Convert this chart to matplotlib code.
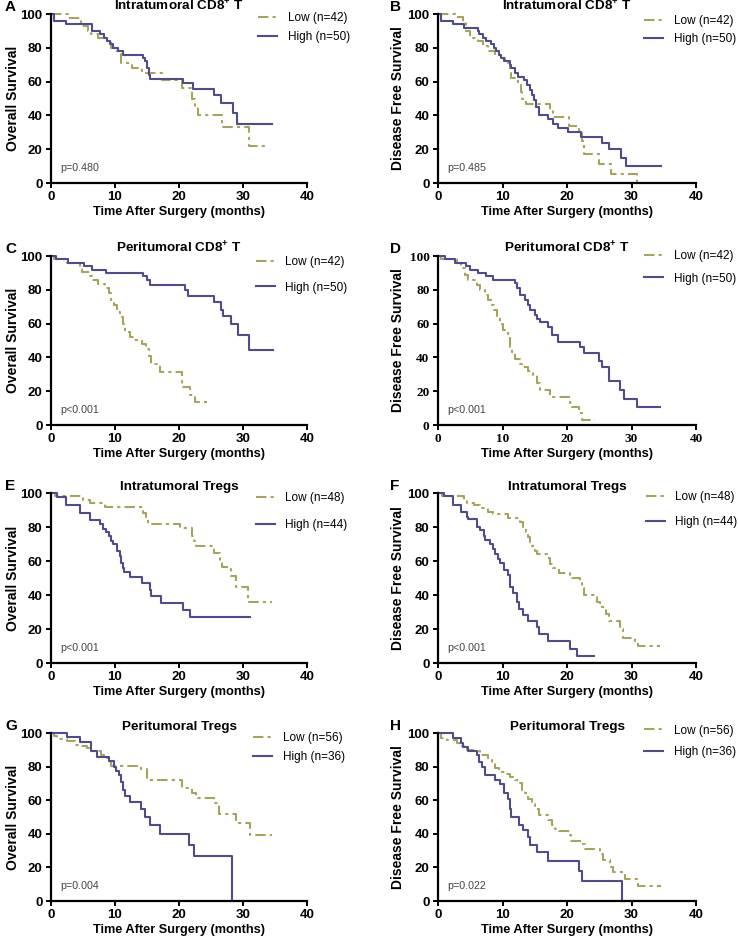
import numpy as np
import matplotlib.pyplot as plt

plt.rcParams['font.family'] = ['Liberation Sans', 'DejaVu Sans']
plt.rcParams['mathtext.fontset'] = 'custom'
plt.rcParams['mathtext.rm'] = 'Liberation Sans'
plt.rcParams['mathtext.bf'] = 'Liberation Sans:bold'

LOW_COLOR = '#a8a35c'
HIGH_COLOR = '#4e4c8c'

# ---- data: step times (months) and survival (%) ----
# A: intratumoral CD8+ T, overall survival
a_low_t = [0, 2.7, 4.7, 5.8, 6.2, 7.4, 8.7, 9.4, 10.0, 10.9, 12.6, 14.2, 17.3, 20.4, 22.0, 22.5, 22.9, 26.7, 31.0, 34.1]
a_low_s = [100, 97.5, 93, 90, 88, 86, 84, 80, 78, 71, 68, 65, 61, 56, 50, 45, 40, 33, 22, 22]
a_high_t = [0, 0.5, 2.4, 6.4, 7.7, 8.3, 8.8, 9.2, 9.7, 10.5, 11.3, 14.3, 14.7, 15.0, 15.3, 15.5, 20.6, 22.2, 25.5, 26.6, 28.4, 29.0, 34.5]
a_high_s = [100, 96, 94, 90, 88, 86, 84, 82, 80, 78, 76, 74, 72, 68, 64, 61.7, 59, 55.5, 52, 47.5, 41.5, 35, 35]

# B: intratumoral CD8+ T, disease free survival
b_low_t = [0, 2.6, 3.9, 4.4, 4.9, 6.2, 7.0, 7.7, 8.9, 9.8, 10.4, 10.8, 11.1, 11.3, 12.4, 12.8, 13.1, 13.7, 17.3, 17.8, 20.3, 21.8, 22.3, 22.7, 25.0, 26.8, 30.9]
b_low_s = [100, 98, 95, 90, 86, 84, 81, 78, 76, 74, 72, 70, 66, 62, 58, 54, 50, 47, 43, 39, 34, 30, 25, 17, 11, 5.5, 0]
b_high_t = [0, 0.5, 2.3, 4.1, 6.2, 6.4, 7.0, 7.5, 8.2, 8.7, 9.0, 9.4, 9.8, 10.3, 11.1, 11.3, 11.9, 12.4, 13.4, 13.8, 14.2, 14.5, 14.9, 15.2, 15.7, 17.0, 17.8, 18.6, 20.1, 22.2, 25.5, 26.5, 28.4, 29.1, 34.5]
b_high_s = [100, 96, 94, 92, 90, 88, 86, 84, 82, 80, 78, 76, 74, 72, 70, 68, 65, 63, 61, 58, 55, 52, 49, 45, 40, 38, 35, 32.5, 30, 27, 23.5, 20, 15, 10, 10]

# C: peritumoral CD8+ T, overall survival
c_low_t = [0, 0.5, 2.5, 4.6, 4.8, 6.1, 6.4, 7.4, 8.5, 9.0, 9.4, 9.8, 10.3, 10.8, 11.3, 11.5, 12.4, 12.9, 14.2, 14.8, 15.3, 15.7, 17.1, 20.5, 21.7, 22.5, 24.3]
c_low_s = [100, 98, 96, 93, 90.5, 88, 86, 83.5, 81, 78, 74, 71, 67, 64, 60, 55, 52, 50.5, 48, 45, 41, 36, 31.5, 22.5, 17.5, 13.5, 13.5]
c_high_t = [0, 0.8, 2.7, 5.1, 6.4, 8.6, 14.4, 15.0, 15.4, 20.9, 21.4, 25.5, 26.5, 26.8, 28.1, 29.2, 31.0, 34.7]
c_high_s = [100, 98, 96, 94, 92, 90, 88, 86, 83, 80, 76.5, 73, 68, 64.5, 59.5, 53.5, 44.5, 44.5]

# D: peritumoral CD8+ T, disease free survival
d_low_t = [0, 0.5, 2.9, 3.5, 4.2, 4.7, 6.0, 6.5, 7.3, 7.8, 8.3, 8.7, 9.2, 9.6, 10.1, 10.8, 11.2, 11.4, 11.9, 12.7, 13.2, 14.0, 14.8, 15.3, 15.8, 17.3, 20.5, 20.8, 21.8, 22.3, 24.4]
d_low_s = [100, 98, 96, 93, 89, 86, 83, 80, 77, 74, 71, 68, 64, 60, 56, 54, 45, 42, 39, 36, 34.5, 32, 29.5, 25, 20.5, 16.5, 13, 10.5, 7, 3, 3]
d_high_t = [0, 1.1, 2.7, 4.4, 4.9, 6.2, 7.5, 8.6, 11.9, 12.2, 12.7, 13.5, 13.9, 14.3, 15.0, 15.3, 15.8, 17.1, 17.7, 18.6, 22.0, 22.6, 24.9, 25.4, 26.5, 28.2, 28.8, 30.9, 34.4]
d_high_s = [100, 98, 96, 94, 92, 90, 88, 86, 84, 81, 77, 74, 71, 68, 65, 63, 61, 58, 53, 49, 46, 42.5, 38, 34.5, 26, 21, 15.5, 10.5, 10.5]

# E: intratumoral Tregs, overall survival
e_low_t = [0, 0.6, 5.0, 6.1, 8.4, 14.4, 14.8, 15.2, 20.1, 22.1, 22.4, 22.7, 25.4, 26.4, 26.7, 28.2, 28.9, 30.8, 34.5]
e_low_s = [100, 98, 96, 94, 91.5, 88, 85, 82, 79.5, 75, 72, 69, 65, 60, 56.5, 51, 45, 36, 36]
e_high_t = [0, 0.9, 2.4, 4.5, 6.1, 7.7, 8.2, 8.6, 9.1, 9.3, 9.7, 10.3, 10.8, 11.0, 11.2, 11.4, 12.3, 14.2, 15.5, 15.6, 17.2, 20.6, 21.7, 31.1]
e_high_s = [100, 97.5, 93, 88.5, 84, 81.5, 79, 77, 75, 72, 70, 66, 63, 59, 56, 53.5, 50.5, 47, 43, 39.5, 35.5, 31, 27, 27]

# F: intratumoral Tregs, disease free survival
f_low_t = [0, 0.6, 4.0, 4.5, 5.6, 6.5, 7.8, 8.6, 10.9, 12.7, 13.2, 13.7, 14.0, 14.3, 14.6, 15.0, 15.3, 17.1, 17.4, 17.9, 18.7, 20.5, 20.7, 22.0, 22.3, 22.6, 24.6, 25.1, 26.1, 26.5, 28.2, 28.7, 30.5, 31.0, 34.4]
f_low_s = [100, 98, 96, 94, 93, 91, 89, 87.5, 85.5, 83, 80, 77, 74, 71, 69, 66, 64, 62, 58, 56, 53, 51, 50, 47, 44, 40, 36, 33, 29, 25, 20, 15, 12, 10, 10]
f_high_t = [0, 0.9, 2.4, 3.6, 4.5, 4.7, 6.1, 6.5, 7.1, 7.3, 8.1, 8.5, 8.9, 9.3, 9.6, 10.2, 10.9, 11.2, 11.6, 12.2, 12.5, 13.2, 14.0, 15.3, 15.6, 17.1, 20.5, 21.5, 24.2]
f_high_s = [100, 98, 93, 89, 86, 84.5, 80, 78, 75, 72.5, 70, 67, 64, 61, 59, 55, 52, 45, 41, 36, 31.5, 28.5, 24.5, 21, 17, 13, 8.5, 4, 4]

# G: peritumoral Tregs, overall survival
g_low_t = [0, 0.4, 0.9, 2.5, 3.8, 4.6, 5.7, 6.1, 7.8, 8.3, 9.1, 9.4, 14.1, 15.0, 20.5, 22.1, 22.6, 25.5, 26.3, 28.9, 31.1, 34.5]
g_low_s = [100, 98, 96.5, 95, 93, 92, 91, 89.5, 87, 85, 83, 80.5, 78.5, 72, 67, 64, 61.5, 58.5, 52, 46.5, 39, 39]
g_high_t = [0, 2.5, 4.6, 6.2, 7.2, 9.1, 9.9, 10.2, 10.7, 11.0, 11.2, 11.5, 12.3, 14.1, 14.7, 15.4, 17.0, 21.6, 22.3, 28.3]
g_high_s = [100, 97.5, 94.5, 89, 86, 83.5, 80, 77.5, 75, 71, 66, 62.5, 59, 55, 50, 45, 40, 33.5, 27, 0]

# H: peritumoral Tregs, disease free survival
h_low_t = [0, 0.4, 1.4, 2.9, 3.7, 4.5, 5.5, 6.5, 7.8, 8.4, 8.9, 9.4, 10.4, 11.2, 12.0, 12.5, 13.0, 13.5, 14.0, 14.5, 15.0, 15.6, 17.1, 17.6, 18.1, 18.7, 20.4, 20.6, 22.3, 22.8, 25.1, 25.6, 26.6, 27.2, 29.0, 31.0, 34.6]
h_low_s = [100, 97, 96, 94, 92, 90, 89, 87, 85, 82, 79, 77, 75.5, 74, 72, 70, 66, 64, 61, 58, 55, 51, 48, 45, 43, 41.5, 39, 36, 34, 31, 28, 24.5, 20, 17.5, 13, 9, 9]
h_high_t = [0, 2.4, 3.5, 3.9, 4.7, 6.0, 6.3, 6.8, 7.3, 8.9, 9.6, 10.2, 10.8, 11.1, 11.3, 12.5, 13.2, 14.0, 14.3, 15.4, 17.1, 21.8, 22.3, 28.5]
h_high_s = [100, 97, 94, 91.5, 89, 87, 83, 80, 75, 72, 69.5, 64, 61, 55, 50, 45.5, 42, 38, 33.5, 29, 24, 18, 12, 0]

panel_letters = ['A', 'B', 'C', 'D', 'E', 'F', 'G', 'H']
titles = [r'Intratumoral CD8$^{\mathbf{+}}$ T', r'Intratumoral CD8$^{\mathbf{+}}$ T',
          r'Peritumoral CD8$^{\mathbf{+}}$ T', r'Peritumoral CD8$^{\mathbf{+}}$ T',
          'Intratumoral Tregs', 'Intratumoral Tregs',
          'Peritumoral Tregs', 'Peritumoral Tregs']
ylabels = ['Overall Survival', 'Disease Free Survival'] * 4
p_values = ['p=0.480', 'p=0.485', 'p<0.001', 'p<0.001', 'p<0.001', 'p<0.001', 'p=0.004', 'p=0.022']
low_labels = ['Low (n=42)', 'Low (n=42)', 'Low (n=42)', 'Low (n=42)', 'Low (n=48)', 'Low (n=48)', 'Low (n=56)', 'Low (n=56)']
high_labels = ['High (n=50)', 'High (n=50)', 'High (n=50)', 'High (n=50)', 'High (n=44)', 'High (n=44)', 'High (n=36)', 'High (n=36)']
x_ticks = [0, 10, 20, 30, 40]
y_ticks = [0, 20, 40, 60, 80, 100]

curves = [
    (a_low_t, a_low_s, a_high_t, a_high_s),
    (b_low_t, b_low_s, b_high_t, b_high_s),
    (c_low_t, c_low_s, c_high_t, c_high_s),
    (d_low_t, d_low_s, d_high_t, d_high_s),
    (e_low_t, e_low_s, e_high_t, e_high_s),
    (f_low_t, f_low_s, f_high_t, f_high_s),
    (g_low_t, g_low_s, g_high_t, g_high_s),
    (h_low_t, h_low_s, h_high_t, h_high_s),
]

# ---- layout (figure fractions) ----
W, H = 738, 941
col_left = [51, 438]
col_width = [256, 258]
row_top = [14, 256, 493, 733]
row_bottom = [183, 425, 663, 901]
title_pad = [-1, 0, 0, 0]
ylabel_right = [20, 405]   # px, right edge of rotated y label
# legend anchor (axes fraction) and row pitch (px) per panel
leg_anchor = [(0.81, 1.01), (0.80, 0.995), (0.80, 1.0), (0.80, 1.035),
              (0.80, 1.006), (0.806, 1.01), (0.79, 1.006), (0.80, 1.05)]
leg_pitch = [20, 20, 27, 24, 29, 26, 21, 23]

fig = plt.figure(figsize=(W / 100, H / 100), dpi=100)

for i in range(8):
    r, c = divmod(i, 2)
    left = col_left[c] / W
    bottom = 1 - row_bottom[r] / H
    width = col_width[c] / W
    h_px = row_bottom[r] - row_top[r]
    height = h_px / H
    ax = fig.add_axes([left, bottom, width, height])

    lt, ls, ht, hs = curves[i]
    l1, = ax.step(lt, ls, where='post', color=LOW_COLOR, lw=1.5,
                  linestyle=(0, (5, 2, 1.5, 2)), clip_on=False, label=low_labels[i])
    l2, = ax.step(ht, hs, where='post', color=HIGH_COLOR, lw=1.5,
                  clip_on=False, label=high_labels[i])

    ax.set_xlim(0, 40)
    ax.set_ylim(0, 100)
    ax.set_xticks(x_ticks)
    ax.set_yticks(y_ticks)
    for s in ['top', 'right']:
        ax.spines[s].set_visible(False)
    for s in ['left', 'bottom']:
        ax.spines[s].set_linewidth(1.6)
    ax.tick_params(width=1.4, length=3.6, direction='out', pad=2.5)
    tick_family = ['Liberation Serif'] if panel_letters[i] == 'D' else ['Liberation Sans']
    for lab in ax.get_xticklabels() + ax.get_yticklabels():
        lab.set_fontweight('bold')
        lab.set_fontsize(9.5)
        lab.set_family(tick_family)

    ax.set_title(titles[i], fontsize=9.7, fontweight='bold', pad=title_pad[r])
    ax.set_xlabel('Time After Surgery (months)', fontsize=9.2, fontweight='bold')
    ax.xaxis.set_label_coords(0.5, -23 / h_px)
    ax.set_ylabel(ylabels[i], fontsize=10, fontweight='bold')
    ax.yaxis.set_label_coords((ylabel_right[c] - col_left[c]) / col_width[c], 0.5)
    ax.text(1.5, 9, p_values[i], fontsize=7.7, color='#444444', va='center')

    fs = 8.5
    spacing = (leg_pitch[i] - 13.5) / (fs * 100 / 72)
    ax.legend(handles=[l1, l2], loc='upper left', bbox_to_anchor=leg_anchor[i],
              frameon=False, fontsize=fs, borderpad=0, borderaxespad=0,
              handlelength=1.6, handletextpad=0.9, labelspacing=spacing)

    lx = [5, 390][c] / W
    fig.text(lx, 1 - (row_top[r] - 7) / H, panel_letters[i], fontsize=11,
             fontweight='bold', va='center', ha='left')

fig.savefig('out.png', dpi=100)
